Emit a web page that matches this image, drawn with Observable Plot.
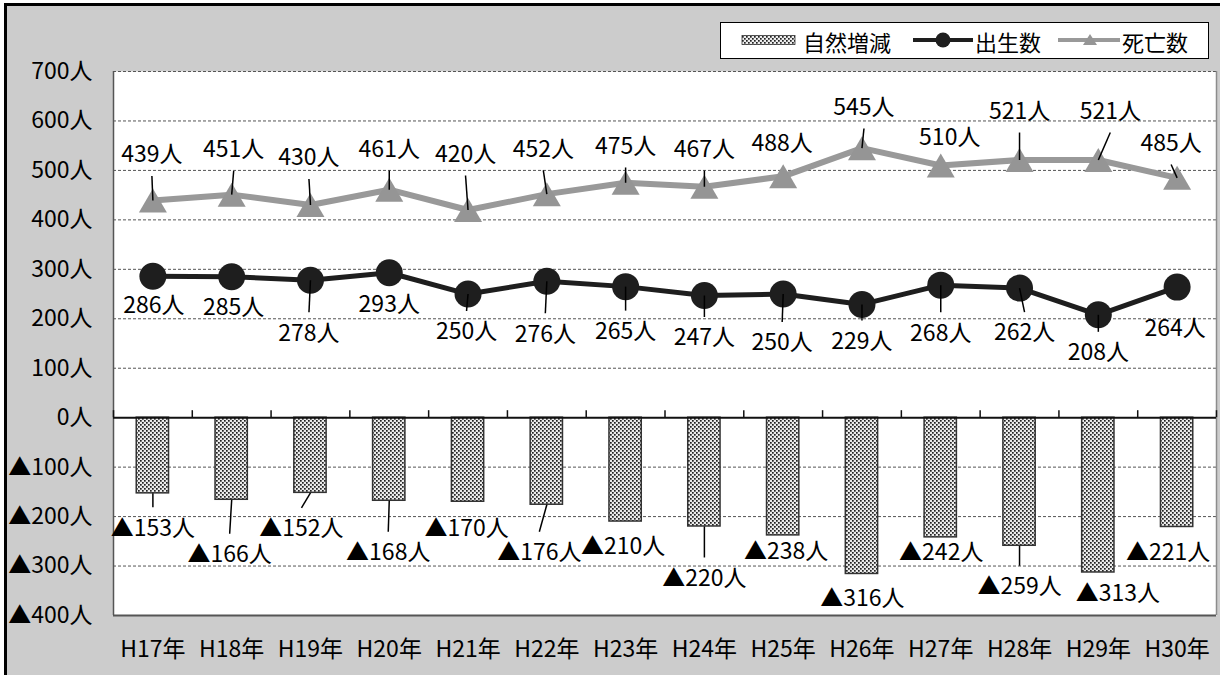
<!DOCTYPE html>
<html>
<head>
<meta charset="utf-8">
<script src="https://cdn.jsdelivr.net/npm/d3@7"></script>
<script src="https://cdn.jsdelivr.net/npm/@observablehq/plot@0.6"></script>
<style>
  html, body { margin: 0; padding: 0; background: #fff; width: 1220px; height: 675px; overflow: hidden; }
  #bg { position: absolute; left: 4px; top: 3px; width: 1230px; height: 690px; border: 3px solid #000; background: #cccccc; }
  #chart { position: absolute; left: 0; top: 0; }
  #legend { position: absolute; left: 720px; top: 22px; }
  text { font-family: "Noto Sans CJK JP", "Noto Sans", sans-serif; }
</style>
</head>
<body>
<div id="bg"></div>
<div id="chart"></div>
<svg id="legend" width="489" height="37" xmlns="http://www.w3.org/2000/svg"></svg>
<script>
// ---- data ----
const years = ["H17年","H18年","H19年","H20年","H21年","H22年","H23年","H24年","H25年","H26年","H27年","H28年","H29年","H30年"];
const births = [286, 285, 278, 293, 250, 276, 265, 247, 250, 229, 268, 262, 208, 264];
const deaths = [439, 451, 430, 461, 420, 452, 475, 467, 488, 545, 510, 521, 521, 485];
const change = [-153, -166, -152, -168, -170, -176, -210, -220, -238, -316, -242, -259, -313, -221];
const yTicks = [-400, -300, -200, -100, 0, 100, 200, 300, 400, 500, 600, 700];
const seriesNames = ["自然増減", "出生数", "死亡数"];

// ---- label layout (pixel offsets from the mark, and leader-line flags) ----
const deathLabelDx = [-1, 2, -1.5, 0, -2.5, -3.5, 0, 0, -1, 2, 9, 0, 12, -6];
const deathLabelDy = [-45.6, -44.7, -47, -40.2, -55.5, -44.7, -36.3, -37.2, -32.9, -40.7, -27.5, -48.5, -48.5, -34.3];
const deathLeader  = [1,1,1,1,1,1,1,1,0,1,0,1,1,1];
const birthLabelDx = [1, 2, -1.5, 0, -1.5, -1.5, 0, 0, -1, 0, 0, 5, 0, -2];
const birthLabelDy = [29, 31, 53, 32, 38, 53, 45, 42.5, 49, 37, 48, 45, 38, 42];
const birthLeader  = [0,0,1,0,1,1,1,1,1,1,1,1,1,0];
const changeLabelDx = [0, -2, -9, -1, -1.5, -7.5, -2.5, 0, 3, 0.5, 0.5, 0, 19.5, -9];
const changeLabelDy = [35, 55, 36, 52, 27, 48, 25, 52, 16, 24.5, 15.5, 41, 21, 25.5];
const changeLeader  = [1,1,1,1,0,1,0,1,0,0,0,1,0,0];

// ---- layout ----
const W = 1220, H = 675, ML = 113, MR = 4, MT = 71, MB = 60;
const pxPerCat = (W - ML - MR) / years.length;
const pxPerUnit = (H - MT - MB) / (700 - (-400));
const gap = 21;
const fmt = v => (v < 0 ? "▲" + (-v) : String(v)) + "人";
const idx = d3.range(years.length);

const tri = { draw(ctx) { ctx.moveTo(0, -12); ctx.lineTo(14, 12); ctx.lineTo(-14, 12); ctx.closePath(); } };

function labelMarks(values, dxs, dys, leaders) {
  const lx = i => i + dxs[i] / pxPerCat;
  const ly = i => values[i] - dys[i] / pxPerUnit;
  const ey = i => values[i] - (dys[i] - Math.sign(dys[i]) * gap) / pxPerUnit;
  return [
    Plot.link(idx.filter(i => leaders[i]), {x1: i => i, y1: i => values[i], x2: lx, y2: ey, stroke: "#000", strokeWidth: 1.5}),
    Plot.text(idx, {x: lx, y: ly, text: i => fmt(values[i]), fill: "#000", fontSize: 23, textAnchor: "middle", lineAnchor: "middle"})
  ];
}

const chart = Plot.plot({
  width: W, height: H,
  marginLeft: ML, marginRight: MR, marginTop: MT, marginBottom: MB,
  style: { background: "transparent", fontSize: "23px", fontFamily: "'Noto Sans CJK JP', sans-serif", color: "#000" },
  x: { type: "linear", domain: [-0.5, years.length - 0.5] },
  y: { domain: [-400, 700] },
  marks: [
    Plot.frame({ fill: "white", stroke: "none" }),
    Plot.ruleY(yTicks.filter(v => v !== 0 && v !== -400), { stroke: "#555", strokeWidth: 1, strokeDasharray: "3,2" }),
    Plot.ruleX([-0.5], { stroke: "#555", strokeWidth: 1.5 }),
    Plot.ruleX([years.length - 0.5], { stroke: "#8c8c8c", strokeWidth: 1.5 }),
    Plot.ruleY([-400], { stroke: "#555", strokeWidth: 2 }),
    Plot.rect(idx, { x1: i => i - 0.205, x2: i => i + 0.205, y1: 0, y2: i => change[i], fill: "url(#dots)", stroke: "#333", strokeWidth: 1.5 }),
    Plot.ruleY([0], { stroke: "#111", strokeWidth: 2 }),
    Plot.ruleX(d3.range(-0.5, years.length, 1), { y1: 0, y2: 7 / pxPerUnit, stroke: "#111", strokeWidth: 1.5 }),
    Plot.line(idx, { x: i => i, y: i => deaths[i], stroke: "#999999", strokeWidth: 6 }),
    Plot.dot(idx, { x: i => i, y: i => deaths[i], symbol: tri, r: 10, fill: "#959595", stroke: "none" }),
    Plot.line(idx, { x: i => i, y: i => births[i], stroke: "#1e1e1e", strokeWidth: 5 }),
    Plot.dot(idx, { x: i => i, y: i => births[i], r: 13.5, fill: "#1e1e1e", stroke: "none" }),
    ...labelMarks(deaths, deathLabelDx, deathLabelDy, deathLeader),
    ...labelMarks(births, birthLabelDx, birthLabelDy, birthLeader),
    ...labelMarks(change, changeLabelDx, changeLabelDy, changeLeader),
    Plot.axisX(idx, { tickFormat: i => years[i], tickSize: 0, tickPadding: 25, fontSize: 23, label: null }),
    Plot.axisY(yTicks, { tickFormat: fmt, tickSize: 0, tickPadding: 21, fontSize: 23, label: null })
  ]
});

// dotted pattern for bars
const NS = "http://www.w3.org/2000/svg";
function addPattern(svg, id) {
  const defs = document.createElementNS(NS, "defs");
  const pat = document.createElementNS(NS, "pattern");
  pat.setAttribute("id", id); pat.setAttribute("width", "4"); pat.setAttribute("height", "4");
  pat.setAttribute("patternUnits", "userSpaceOnUse");
  const bgR = document.createElementNS(NS, "rect");
  bgR.setAttribute("width", "4"); bgR.setAttribute("height", "4"); bgR.setAttribute("fill", "#ececec");
  pat.appendChild(bgR);
  [[0, 0], [2, 2]].forEach(([x, y]) => {
    const r = document.createElementNS(NS, "rect");
    r.setAttribute("x", x); r.setAttribute("y", y); r.setAttribute("width", "1.7"); r.setAttribute("height", "1.7");
    r.setAttribute("fill", "#222");
    pat.appendChild(r);
  });
  defs.appendChild(pat);
  svg.insertBefore(defs, svg.firstChild);
}
addPattern(chart, "dots");
document.getElementById("chart").appendChild(chart);

// legend
const lg = document.getElementById("legend");
addPattern(lg, "dots2");
lg.insertAdjacentHTML("beforeend", `
  <rect x="0.5" y="0.5" width="488" height="36" fill="#fff" stroke="#000" stroke-width="1"/>
  <rect x="22" y="13.5" width="53" height="9" fill="url(#dots2)" stroke="#333" stroke-width="0.8"/>
  <text x="83" y="18.5" font-size="22" dominant-baseline="central">${seriesNames[0]}</text>
  <line x1="193" y1="18" x2="253" y2="18" stroke="#1e1e1e" stroke-width="4"/>
  <circle cx="223" cy="18" r="7.5" fill="#1e1e1e"/>
  <text x="255" y="18.5" font-size="22" dominant-baseline="central">${seriesNames[1]}</text>
  <line x1="338" y1="18" x2="400" y2="18" stroke="#999999" stroke-width="4"/>
  <path d="M370,12 L377,23 L363,23 Z" fill="#959595"/>
  <text x="402" y="18.5" font-size="22" dominant-baseline="central">${seriesNames[2]}</text>
`);
</script>
</body>
</html>
